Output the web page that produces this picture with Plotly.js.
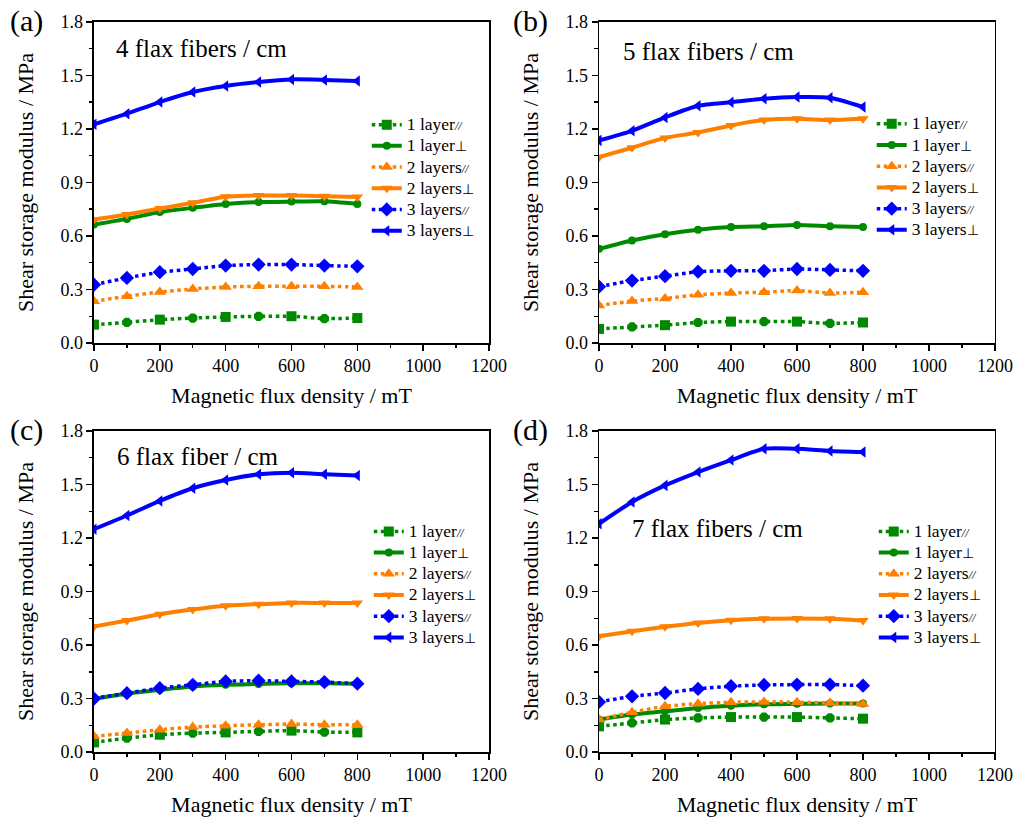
<!DOCTYPE html>
<html>
<head>
<meta charset="utf-8">
<script src="https://cdn.plot.ly/plotly-3.0.1.min.js"></script>
<style>html,body{margin:0;padding:0;background:#fff;}#chart{width:1016px;height:820px;}</style>
</head>
<body>
<div id="chart"></div>
<script>
// ---- data ----
const fluxDensity = [0, 100, 200, 300, 400, 500, 600, 700, 800];

const seriesNames = ['1 layer//', '1 layer⊥', '2 layers//', '2 layers⊥', '3 layers//', '3 layers⊥'];

const panelLabels = ['(a)', '(b)', '(c)', '(d)'];
const panelTitles = ['4 flax fibers / cm', '5 flax fibers / cm', '6 flax fiber / cm', '7 flax fibers / cm'];

// panel (a) 4 flax fibers / cm
const a_1par  = [0.103, 0.116, 0.131, 0.140, 0.146, 0.150, 0.150, 0.137, 0.140];
const a_1perp = [0.664, 0.696, 0.734, 0.758, 0.780, 0.790, 0.793, 0.795, 0.780];
const a_2par  = [0.234, 0.262, 0.286, 0.303, 0.314, 0.318, 0.318, 0.318, 0.314];
const a_2perp = [0.692, 0.720, 0.754, 0.786, 0.820, 0.827, 0.827, 0.823, 0.818];
const a_3par  = [0.327, 0.365, 0.397, 0.415, 0.434, 0.440, 0.440, 0.434, 0.430];
const a_3perp = [1.226, 1.286, 1.351, 1.407, 1.441, 1.463, 1.478, 1.475, 1.469];

// panel (b) 5 flax fibers / cm
const b_1par  = [0.079, 0.090, 0.100, 0.115, 0.120, 0.120, 0.120, 0.110, 0.115];
const b_1perp = [0.528, 0.575, 0.610, 0.635, 0.650, 0.655, 0.662, 0.655, 0.650];
const b_2par  = [0.210, 0.235, 0.250, 0.270, 0.280, 0.285, 0.294, 0.280, 0.285];
const b_2perp = [1.042, 1.095, 1.150, 1.180, 1.220, 1.250, 1.257, 1.250, 1.257];
const b_3par  = [0.316, 0.350, 0.375, 0.400, 0.405, 0.405, 0.415, 0.410, 0.405];
const b_3perp = [1.136, 1.190, 1.265, 1.330, 1.350, 1.370, 1.379, 1.375, 1.323];

// panel (c) 6 flax fiber / cm
const c_1par  = [0.054, 0.078, 0.097, 0.106, 0.110, 0.116, 0.120, 0.112, 0.110];
const c_1perp = [0.299, 0.327, 0.349, 0.368, 0.377, 0.381, 0.386, 0.386, 0.383];
const c_2par  = [0.088, 0.106, 0.125, 0.140, 0.147, 0.153, 0.157, 0.153, 0.153];
const c_2perp = [0.704, 0.737, 0.773, 0.799, 0.820, 0.829, 0.836, 0.836, 0.836];
const c_3par  = [0.300, 0.330, 0.358, 0.377, 0.396, 0.400, 0.396, 0.392, 0.383];
const c_3perp = [1.249, 1.326, 1.408, 1.479, 1.525, 1.557, 1.566, 1.557, 1.550];

// panel (d) 7 flax fibers / cm
const d_1par  = [0.144, 0.163, 0.182, 0.191, 0.196, 0.196, 0.196, 0.191, 0.187];
const d_1perp = [0.182, 0.210, 0.228, 0.247, 0.260, 0.268, 0.270, 0.272, 0.272];
const d_2par  = [0.182, 0.223, 0.256, 0.271, 0.279, 0.281, 0.279, 0.275, 0.269];
const d_2perp = [0.649, 0.677, 0.702, 0.724, 0.739, 0.747, 0.749, 0.747, 0.737];
const d_3par  = [0.281, 0.312, 0.331, 0.354, 0.369, 0.376, 0.378, 0.378, 0.372];
const d_3perp = [1.280, 1.402, 1.495, 1.570, 1.637, 1.700, 1.700, 1.688, 1.682];

const panels = [
  [a_1par, a_1perp, a_2par, a_2perp, a_3par, a_3perp],
  [b_1par, b_1perp, b_2par, b_2perp, b_3par, b_3perp],
  [c_1par, c_1perp, c_2par, c_2perp, c_3par, c_3perp],
  [d_1par, d_1perp, d_2par, d_2perp, d_3par, d_3perp]
];

// ---- styles ----
const GREEN = '#008a00', ORANGE = '#ff8000', BLUE = '#0000ff';
const FONT = 'Liberation Serif';
const altSquare = fluxDensity.map((_, i) => i % 2 === 0 ? 'square' : 'octagon');
const styles = [
  {color: GREEN,  dash: 'dot',   symbol: altSquare,        size: 10},
  {color: GREEN,  dash: 'solid', symbol: 'circle',         size: 8},
  {color: ORANGE, dash: 'dot',   symbol: 'triangle-up',    size: 11},
  {color: ORANGE, dash: 'solid', symbol: 'triangle-down',  size: 10},
  {color: BLUE,   dash: 'dot',   symbol: 'diamond',        size: 11},
  {color: BLUE,   dash: 'solid', symbol: 'triangle-left',  size: 10}
];

function legendLabel(name) {
  const m = name.match(/^(.*?)(\/\/|⊥)$/);
  const base = '<span style="font-size:17.5px">' + m[1] + '</span>';
  const mark = m[2] === '//'
    ? '<span style="font-size:12px"><i>//</i></span>'
    : '<span style="font-size:14px">⊥</span>';
  return base + mark;
}

const xDom = [[0.0925, 0.4813], [0.5896, 0.9793], [0.0925, 0.4813], [0.5896, 0.9793]];
const yDom = [[0.5817, 0.9732], [0.5817, 0.9732], [0.0829, 0.4744], [0.0829, 0.4744]];
const legendPos = [[0.361, 0.867], [0.858, 0.868], [0.363, 0.371], [0.860, 0.371]];
const labelPos = [[0.008, 0.975], [0.503, 0.975], [0.008, 0.476], [0.503, 0.476]];
const titlePos = [[0.112, 0.941], [0.611, 0.937], [0.113, 0.443], [0.620, 0.356]];

const traces = [];
const layout = {
  width: 1016, height: 820,
  margin: {l: 0, r: 0, t: 0, b: 0},
  paper_bgcolor: '#fff', plot_bgcolor: '#fff',
  font: {family: FONT, color: '#000', size: 16},
  annotations: []
};

panels.forEach((series, p) => {
  const sfx = p === 0 ? '' : String(p + 1);
  const legName = 'legend' + sfx;
  series.forEach((vals, s) => {
    const st = styles[s];
    traces.push({
      x: fluxDensity, y: vals,
      type: 'scatter', mode: 'lines+markers',
      name: legendLabel(seriesNames[s]),
      xaxis: 'x' + sfx, yaxis: 'y' + sfx,
      legend: legName,
      line: {color: st.color, width: st.dash === 'dot' ? 3.5 : 4, dash: st.dash, shape: 'spline', smoothing: 0.6},
      marker: {color: st.color, symbol: st.symbol, size: st.size, line: {width: 0}}
    });
  });
  const axisCommon = {
    showline: true, linecolor: '#000', linewidth: 1.5, mirror: true,
    ticks: 'outside', ticklen: 6, tickwidth: 1.5, tickcolor: '#000',
    showgrid: false, zeroline: false,
    tickfont: {family: FONT, size: 18, color: '#000'}
  };
  layout['xaxis' + sfx] = Object.assign({}, axisCommon, {
    domain: xDom[p], anchor: 'y' + sfx, range: [0, 1200], dtick: 200, tick0: 0,
    minor: {ticks: 'outside', ticklen: 3.5, dtick: 100, tickwidth: 1.5, tickcolor: '#000'},
    title: {text: 'Magnetic flux density / mT', font: {family: FONT, size: 22, color: '#000'}, standoff: 12}
  });
  layout['yaxis' + sfx] = Object.assign({}, axisCommon, {
    domain: yDom[p], anchor: 'x' + sfx, range: [0, 1.8], dtick: 0.3, tick0: 0, tickformat: '.1f',
    minor: {ticks: 'outside', ticklen: 3.5, dtick: 0.15, tickwidth: 1.5, tickcolor: '#000'},
    title: {text: 'Shear storage modulus / MPa', font: {family: FONT, size: 22, color: '#000'}, standoff: 20}
  });
  layout[legName] = {
    x: legendPos[p][0], y: legendPos[p][1], xanchor: 'left', yanchor: 'top',
    bgcolor: 'rgba(0,0,0,0)', borderwidth: 0,
    font: {family: FONT, size: 14, color: '#000'},
    tracegroupgap: 0, itemwidth: 30
  };
  layout.annotations.push({
    xref: 'paper', yref: 'paper', x: labelPos[p][0], y: labelPos[p][1],
    xanchor: 'left', yanchor: 'middle', showarrow: false,
    text: panelLabels[p], font: {family: FONT, size: 30, color: '#000'}
  });
  layout.annotations.push({
    xref: 'paper', yref: 'paper', x: titlePos[p][0], y: titlePos[p][1],
    xanchor: 'left', yanchor: 'middle', showarrow: false,
    text: panelTitles[p], font: {family: FONT, size: 25, color: '#000'}
  });
});

Plotly.newPlot('chart', traces, layout, {displayModeBar: false, staticPlot: true});
</script>
</body>
</html>
